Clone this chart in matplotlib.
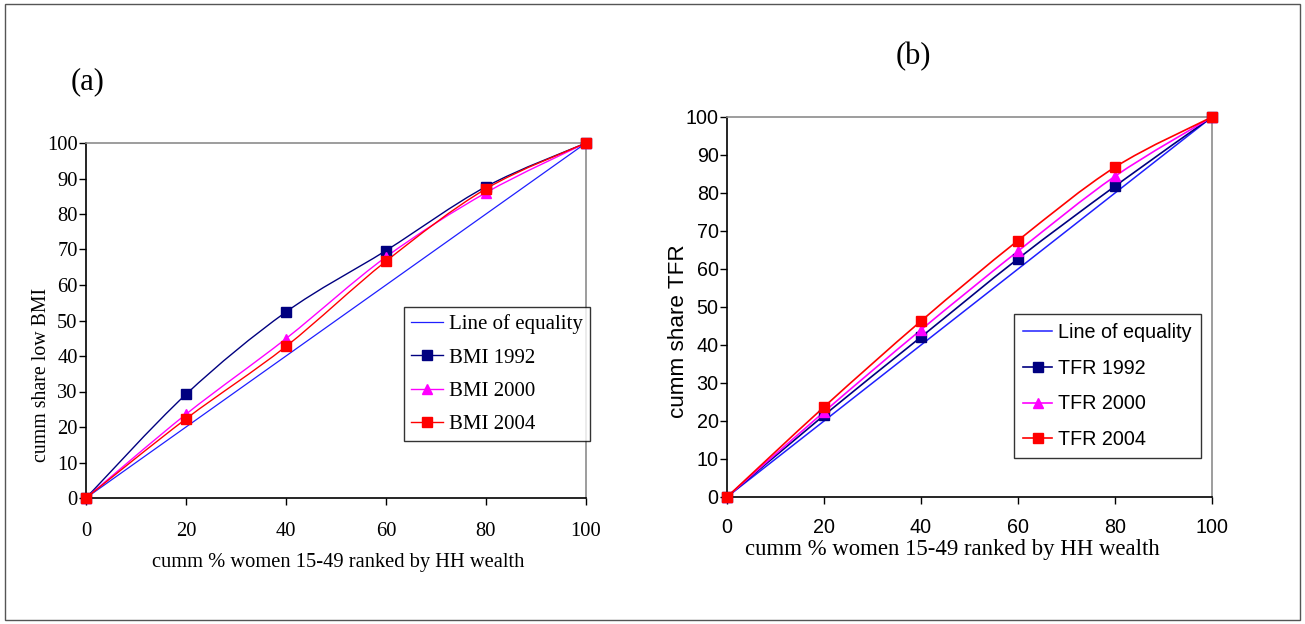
import matplotlib
matplotlib.use("Agg")
import matplotlib.pyplot as plt
import numpy as np
from matplotlib.path import Path
from matplotlib.patches import PathPatch, Rectangle
from matplotlib.lines import Line2D

# ---------------- data ----------------
x_pct = [0, 20, 40, 60, 80, 100]
equality = [0, 20, 40, 60, 80, 100]

bmi_1992 = [0, 29.2, 52.4, 69.7, 87.7, 100]
bmi_2000 = [0, 23.6, 44.9, 67.9, 86.0, 100]
bmi_2004 = [0, 22.3, 42.7, 66.7, 87.1, 100]

tfr_1992 = [0, 21.5, 42.1, 62.7, 81.8, 100]
tfr_2000 = [0, 22.4, 44.0, 64.7, 84.4, 100]
tfr_2004 = [0, 23.7, 46.3, 67.5, 86.8, 100]

x_ticks = [0, 20, 40, 60, 80, 100]
y_ticks = [0, 10, 20, 30, 40, 50, 60, 70, 80, 90, 100]

COL_EQ = "#1f1fff"
COL_92 = "#000080"
COL_00 = "#ff00ff"
COL_04 = "#ff0000"

SERIF = ["Liberation Serif", "DejaVu Serif"]
SANS = ["Liberation Sans", "DejaVu Sans"]


def smooth_path(xs, ys, t=1.0 / 6.0):
    """Excel-style smoothed line as a cubic Bezier path through the data points."""
    P = np.column_stack([xs, ys]).astype(float)
    n = len(P)
    verts = [P[0]]
    codes = [Path.MOVETO]
    for i in range(n - 1):
        p_prev = P[i - 1] if i > 0 else P[i]
        p_next2 = P[i + 2] if i + 2 < n else P[i + 1]
        c1 = P[i] + (P[i + 1] - p_prev) * t
        c2 = P[i + 1] - (p_next2 - P[i]) * t
        verts += [c1, c2, P[i + 1]]
        codes += [Path.CURVE4] * 3
    return Path(verts, codes)


def draw_series(ax, ys, color, marker, lw=1.0, ms=6.5, smooth=True):
    if smooth:
        ax.add_patch(PathPatch(smooth_path(x_pct, ys), fill=False,
                               edgecolor=color, lw=lw, zorder=3))
    else:
        ax.plot(x_pct, ys, color=color, lw=lw, zorder=2)
    if marker is not None:
        ax.plot(x_pct, ys, ls="none", marker=marker, ms=ms, color=color,
                mec=color, clip_on=False, zorder=4)


fig = plt.figure(figsize=(13.05, 6.24), dpi=100)
W, H = 1305, 624

# outer border
fig.patches.append(Rectangle((5 / W, 4 / H), 1295 / W, 616 / H, transform=fig.transFigure,
                             fill=False, edgecolor="#555555", lw=1.0))


def style_axes(ax, family, tick_size, xpad):
    ax.set_xlim(0, 100)
    ax.set_ylim(0, 100)
    ax.set_xticks(x_ticks)
    ax.set_yticks(y_ticks)
    ax.spines["left"].set_color("black")
    ax.spines["bottom"].set_color("black")
    ax.spines["top"].set_color("#8c8c8c")
    ax.spines["right"].set_color("#8c8c8c")
    for s in ax.spines.values():
        s.set_linewidth(1.2)
    ax.tick_params(direction="out", length=5, width=1.0, labelsize=tick_size, pad=1)
    for lab in ax.get_xticklabels() + ax.get_yticklabels():
        lab.set_family(family)
    ax.tick_params(axis="x", pad=xpad)


# ---------------- panel (a) ----------------
axa = fig.add_axes([86 / W, 1 - 498 / H, 500 / W, 355 / H])
style_axes(axa, SERIF, 14.8, 12)
draw_series(axa, equality, COL_EQ, None, lw=0.9, smooth=False)
draw_series(axa, bmi_1992, COL_92, "s")
draw_series(axa, bmi_2000, COL_00, "^")
draw_series(axa, bmi_2004, COL_04, "s")

handles_a = [
    Line2D([], [], color=COL_EQ, lw=0.9),
    Line2D([], [], color=COL_92, lw=1.0, marker="s", ms=6.5),
    Line2D([], [], color=COL_00, lw=1.0, marker="^", ms=6.5),
    Line2D([], [], color=COL_04, lw=1.0, marker="s", ms=6.5),
]
leg_a = axa.legend(handles_a, ["Line of equality", "BMI 1992", "BMI 2000", "BMI 2004"],
                   loc="upper left", bbox_to_anchor=((404 - 86) / 500, (498 - 307) / 355),
                   borderaxespad=0, frameon=True, fancybox=False, edgecolor="black",
                   prop={"family": SERIF, "size": 15}, handlelength=1.5,
                   handletextpad=0.3, labelspacing=0.66, borderpad=0.35)
leg_a.get_frame().set_linewidth(1.0)

fig.text(88 / W, 1 - 82 / H, "(a)", family=SERIF, fontsize=22, ha="center", va="center")
fig.text(42 / W, 1 - 375 / H, "cumm share low BMI", family=SERIF, fontsize=14.3,
         rotation=90, ha="center", va="center")
fig.text(338 / W, 1 - 563 / H, "cumm % women 15-49 ranked by HH wealth", family=SERIF,
         fontsize=14.8, ha="center", va="center")

# ---------------- panel (b) ----------------
axb = fig.add_axes([727 / W, 1 - 497 / H, 485 / W, 380 / H])
style_axes(axb, SANS, 14.2, 10)
draw_series(axb, equality, COL_EQ, None, lw=1.1, smooth=False)
draw_series(axb, tfr_1992, COL_92, "s", lw=1.2)
draw_series(axb, tfr_2000, COL_00, "^", lw=1.2)
draw_series(axb, tfr_2004, COL_04, "s", lw=1.2)

handles_b = [
    Line2D([], [], color=COL_EQ, lw=1.1),
    Line2D([], [], color=COL_92, lw=1.2, marker="s", ms=6.5),
    Line2D([], [], color=COL_00, lw=1.2, marker="^", ms=6.5),
    Line2D([], [], color=COL_04, lw=1.2, marker="s", ms=6.5),
]
leg_b = axb.legend(handles_b, ["Line of equality", "TFR 1992", "TFR 2000", "TFR 2004"],
                   loc="upper left", bbox_to_anchor=((1014 - 727) / 485, (497 - 314) / 380),
                   borderaxespad=0, frameon=True, fancybox=False, edgecolor="black",
                   prop={"family": SANS, "size": 14.2}, handlelength=1.5,
                   handletextpad=0.3, labelspacing=0.85, borderpad=0.45)
leg_b.get_frame().set_linewidth(1.0)

fig.text(913 / W, 1 - 57 / H, "(b)", family=SERIF, fontsize=22, ha="center", va="center")
fig.text(678 / W, 1 - 331 / H, "cumm share TFR", family=SANS, fontsize=16.2,
         rotation=90, ha="center", va="center")
fig.text(952 / W, 1 - 550 / H, "cumm % women 15-49 ranked by HH wealth", family=SERIF,
         fontsize=16.4, ha="center", va="center")

fig.savefig("out.png", dpi=100)
